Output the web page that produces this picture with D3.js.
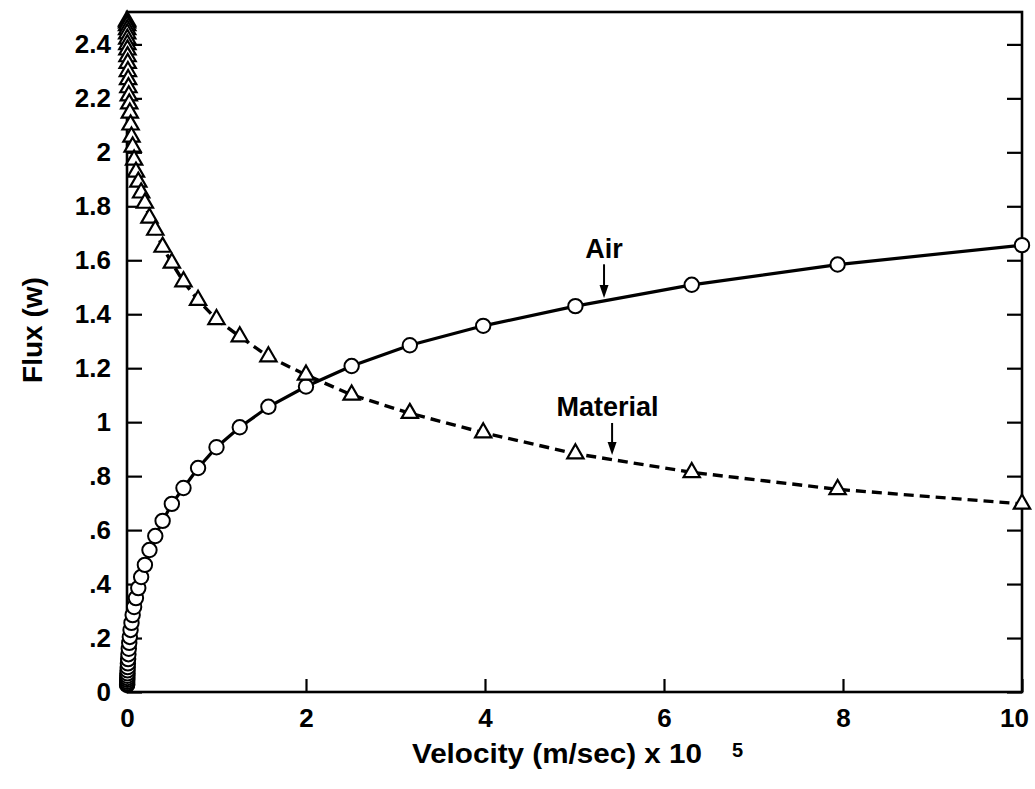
<!DOCTYPE html>
<html>
<head>
<meta charset="utf-8">
<script src="https://cdn.jsdelivr.net/npm/d3@7"></script>
<style>
  html, body { margin: 0; padding: 0; background: #fff; }
  svg { display: block; }
  text { font-family: "Liberation Sans", Arial, Helvetica, sans-serif; font-weight: bold; fill: #000; }
</style>
</head>
<body>
<svg id="chart" width="1035" height="789"></svg>
<script>
// ---- data ----
// velocity (x 10^5 m/sec), log-spaced sample points
const velocity = [10, 7.94, 6.31, 5.01, 3.98, 3.16, 2.51, 2.0, 1.58, 1.26,
  1.0, 0.794, 0.631, 0.501, 0.398, 0.316, 0.251, 0.2, 0.158, 0.126,
  0.1, 0.0794, 0.0631, 0.0501, 0.0398, 0.0316, 0.0251, 0.02, 0.0158, 0.0126,
  0.01, 0.00794, 0.00631, 0.00501, 0.00398, 0.00316, 0.00251, 0.002, 0.00158, 0.00126, 0.001];

const airFlux = [1.656, 1.584, 1.509, 1.430, 1.357, 1.285, 1.208, 1.132, 1.057, 0.981,
  0.907, 0.830, 0.756, 0.697, 0.634, 0.578, 0.526, 0.471, 0.426, 0.385,
  0.348, 0.315, 0.285, 0.256, 0.230, 0.204, 0.182, 0.160, 0.140, 0.122,
  0.106, 0.092, 0.080, 0.069, 0.060, 0.052, 0.045, 0.038, 0.032, 0.028, 0.026];

const materialFlux = [0.697, 0.751, 0.814, 0.883, 0.961, 1.033, 1.101, 1.175, 1.243, 1.317,
  1.381, 1.452, 1.521, 1.590, 1.649, 1.712, 1.757, 1.812, 1.850, 1.890,
  1.927, 1.972, 2.020, 2.057, 2.102, 2.146, 2.180, 2.210, 2.240, 2.270,
  2.300, 2.330, 2.355, 2.380, 2.400, 2.420, 2.440, 2.455, 2.470, 2.480, 2.487];

const xTicks = [0, 2, 4, 6, 8, 10];
const xTickLabels = ["0", "2", "4", "6", "8", "10"];
const yTicks = [0, 0.2, 0.4, 0.6, 0.8, 1, 1.2, 1.4, 1.6, 1.8, 2, 2.2, 2.4];
const yTickLabels = ["0", ".2", ".4", ".6", ".8", "1", "1.2", "1.4", "1.6", "1.8", "2", "2.2", "2.4"];

const xTitle = "Velocity (m/sec) x 10";
const xTitleExp = "5";
const yTitle = "Flux (w)";
const seriesNames = ["Air", "Material"];

// ---- layout ----
const svg = d3.select("#chart");
const pLeft = 127, pRight = 1022, pTop = 12, pBottom = 692;

const x = d3.scaleLinear().domain([0, 10]).range([pLeft, pRight]);
const y = d3.scaleLinear().domain([0, 2.52]).range([pBottom, pTop]);

const air = velocity.map((v, i) => ({ x: v, y: airFlux[i] })).sort((a, b) => a.x - b.x);
const mat = velocity.map((v, i) => ({ x: v, y: materialFlux[i] })).sort((a, b) => a.x - b.x);

const line = d3.line().x(d => x(d.x)).y(d => y(d.y));

// axes (inward ticks)
const gx = svg.append("g").attr("transform", `translate(0,${pBottom})`)
  .call(d3.axisBottom(x).tickValues(xTicks).tickSize(-13).tickPadding(17)
    .tickFormat((d, i) => xTickLabels[i]));
const gy = svg.append("g").attr("transform", `translate(${pLeft},0)`)
  .call(d3.axisLeft(y).tickValues(yTicks).tickSize(-15).tickPadding(16)
    .tickFormat((d, i) => yTickLabels[i]));
const gr = svg.append("g").attr("transform", `translate(${pRight},0)`)
  .call(d3.axisRight(y).tickValues(yTicks).tickSize(-15).tickFormat(""));

[gx, gy, gr].forEach(g => {
  g.select(".domain").remove();
  g.selectAll(".tick line").attr("stroke", "#000").attr("stroke-width", 2.2);
  g.selectAll("text").attr("font-size", 26).attr("fill", "#000")
    .attr("font-family", "'Liberation Sans', Arial, sans-serif").attr("font-weight", "bold");
});
// keep the last x label inside the page
gx.selectAll(".tick text").filter(d => d === 10).attr("dx", -8);

// frame
svg.append("rect").attr("x", pLeft).attr("y", pTop)
  .attr("width", pRight - pLeft).attr("height", pBottom - pTop)
  .attr("fill", "none").attr("stroke", "#000").attr("stroke-width", 2.6);

// lines
svg.append("path").datum(air).attr("d", line)
  .attr("fill", "none").attr("stroke", "#000").attr("stroke-width", 3.2);
svg.append("path").datum(mat).attr("d", line)
  .attr("fill", "none").attr("stroke", "#000").attr("stroke-width", 3.4)
  .attr("stroke-dasharray", "10,6");

// markers
svg.append("g").selectAll("circle").data(air).join("circle")
  .attr("cx", d => x(d.x)).attr("cy", d => y(d.y)).attr("r", 7.2)
  .attr("fill", "#fff").attr("stroke", "#000").attr("stroke-width", 2);
const tri = d3.symbol(d3.symbolTriangle, 115);
svg.append("g").selectAll("path").data(mat).join("path")
  .attr("d", tri).attr("transform", d => `translate(${x(d.x)},${y(d.y)})`)
  .attr("fill", "#fff").attr("stroke", "#000").attr("stroke-width", 2.2);

// annotations
const arrowHead = (ax, tipY) => `M${ax - 4.5},${tipY - 13} L${ax + 4.5},${tipY - 13} L${ax},${tipY} Z`;
function annotate(name, lx, ly, ax, ay0, ay1, fs) {
  svg.append("text").attr("x", x(lx)).attr("y", y(ly)).attr("text-anchor", "middle")
    .attr("font-size", fs).text(name);
  svg.append("line").attr("x1", x(ax)).attr("x2", x(ax)).attr("y1", y(ay0)).attr("y2", y(ay1) - 10)
    .attr("stroke", "#000").attr("stroke-width", 2);
  svg.append("path").attr("d", arrowHead(x(ax), y(ay1))).attr("fill", "#000");
}
annotate(seriesNames[0], 5.33, 1.61, 5.33, 1.585, 1.46, 27);
annotate(seriesNames[1], 5.37, 1.023, 5.42, 0.997, 0.878, 27);

// axis titles
svg.append("text").attr("x", 412).attr("y", 763).attr("font-size", 28)
  .attr("textLength", 290).attr("lengthAdjust", "spacingAndGlyphs").text(xTitle);
svg.append("text").attr("x", 732).attr("y", 757).attr("font-size", 20).text(xTitleExp);
svg.append("text").attr("transform", "translate(42,330) rotate(-90)")
  .attr("text-anchor", "middle").attr("font-size", 28).text(yTitle);
</script>
</body>
</html>
